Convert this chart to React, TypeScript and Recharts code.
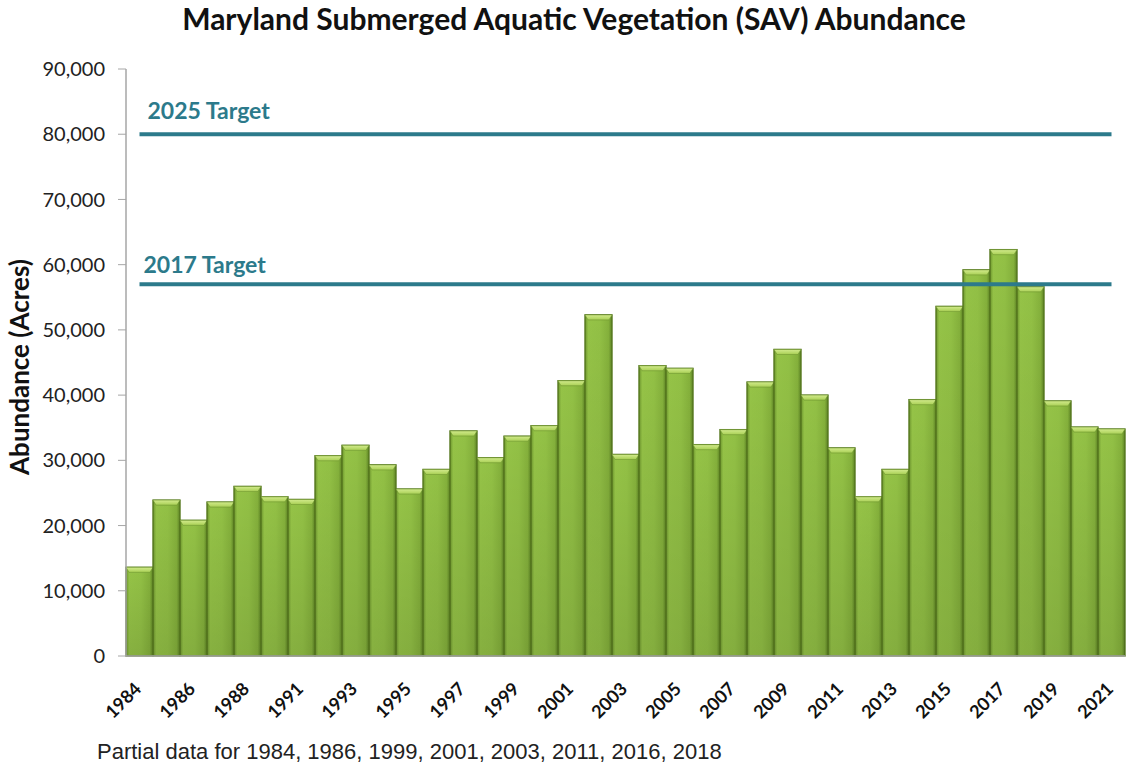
import { ComposedChart, Bar, XAxis, YAxis, ReferenceLine } from "recharts";

const years: string[] = [
  "1984", "1985", "1986", "1987", "1988", "1989", "1991", "1992", "1993", "1994",
  "1995", "1996", "1997", "1998", "1999", "2000", "2001", "2002", "2003", "2004",
  "2005", "2006", "2007", "2008", "2009", "2010", "2011", "2012", "2013", "2014",
  "2015", "2016", "2017", "2018", "2019", "2020", "2021",
];

// acres of SAV
const acres: number[] = [
  13600, 23900, 20800, 23600, 26000, 24400, 24000, 30700, 32300, 29300,
  25600, 28600, 34500, 30400, 33700, 35300, 42200, 52300, 30900, 44500,
  44100, 32400, 34700, 42000, 47000, 40000, 31900, 24400, 28600, 39300,
  53600, 59200, 62300, 56600, 39100, 35100, 34800,
];

const yTicks: number[] = [0, 10000, 20000, 30000, 40000, 50000, 60000, 70000, 80000, 90000];

const target2025 = 80000;
const target2017 = 57000;

const data = years.map((year, i) => ({ year, acres: acres[i] }));

const TEAL = "#2c7a8b";
const calibri = "Lato, 'Open Sans', sans-serif";

// bevelled green bar like the original
const BevelBar = (props: any) => {
  const { x, y, width, height } = props;
  if (height <= 0) return null;
  const b = 5;
  return (
    <g>
      <rect x={x} y={y} width={width} height={height} fill="url(#barGrad)" stroke="#56781f" strokeWidth={1.4} />
      <rect x={x} y={y} width={width} height={height} fill="url(#barShade)" />
      <polygon
        points={`${x},${y} ${x + width},${y} ${x + width - 3},${y + b} ${x + 3},${y + b}`}
        fill="url(#bevelGrad)"
        stroke="#6e9630"
        strokeWidth={0.6}
      />
    </g>
  );
};

const YearTick = (props: any) => {
  const { x, y, payload } = props;
  return (
    <g transform={`translate(${x + 3},${y + 26})`}>
      <text
        textAnchor="end"
        transform="rotate(-45)"
        fontFamily={calibri}
        fontWeight={700}
        fontSize={18}
        fill="#111"
      >
        {payload.value}
      </text>
    </g>
  );
};

const targetLabel = (text: string, dx: number, dy: number) => (props: any) => {
  const { viewBox } = props;
  return (
    <text
      x={viewBox.x + dx}
      y={viewBox.y - dy}
      fontFamily={calibri}
      fontWeight={700}
      fontSize={23}
      fill={TEAL}
    >
      {text}
    </text>
  );
};

const App = () => {
  return (
    <div style={{ position: "absolute", left: 0, top: 0, width: 1128, height: 767, background: "#fff" }}>
      <ComposedChart
        width={1128}
        height={767}
        data={data}
        margin={{ top: 69, right: 3, bottom: 51, left: 0 }}
        barCategoryGap={0}
      >
        <defs>
          <linearGradient id="barGrad" x1="0" y1="0" x2="1" y2="0">
            <stop offset="0%" stopColor="#6c952d" />
            <stop offset="12%" stopColor="#95c347" />
            <stop offset="55%" stopColor="#92c045" />
            <stop offset="88%" stopColor="#84b03b" />
            <stop offset="100%" stopColor="#5c8224" />
          </linearGradient>
          <linearGradient id="barShade" x1="0" y1="0" x2="0" y2="1">
            <stop offset="0%" stopColor="#000" stopOpacity={0} />
            <stop offset="100%" stopColor="#000" stopOpacity={0.1} />
          </linearGradient>
          <linearGradient id="bevelGrad" x1="0" y1="0" x2="0" y2="1">
            <stop offset="0%" stopColor="#d2ea8c" />
            <stop offset="100%" stopColor="#a9d055" />
          </linearGradient>
        </defs>
        <text
          x={574}
          y={30}
          textAnchor="middle"
          fontFamily={calibri}
          fontWeight={700}
          fontSize={30}
          fill="#111"
        >
          Maryland Submerged Aquatic Vegetation (SAV) Abundance
        </text>
        <text
          x={0}
          y={0}
          transform="translate(29,367) rotate(-90)"
          textAnchor="middle"
          fontFamily={calibri}
          fontWeight={700}
          fontSize={26}
          fill="#111"
        >
          Abundance (Acres)
        </text>
        <text x={97} y={759} fontFamily="'Liberation Sans', Arial, sans-serif" fontSize={22} fill="#222">
          Partial data for 1984, 1986, 1999, 2001, 2003, 2011, 2016, 2018
        </text>
        <XAxis
          dataKey="year"
          interval={1}
          height={60}
          tickLine={false}
          axisLine={{ stroke: "#a6a6a6", strokeWidth: 1.5 }}
          tick={<YearTick />}
        />
        <YAxis
          width={126}
          domain={[0, 90000]}
          ticks={yTicks}
          tickSize={8}
          tickMargin={13}
          tickLine={{ stroke: "#a6a6a6" }}
          axisLine={{ stroke: "#a6a6a6", strokeWidth: 1.5 }}
          tick={{ fontFamily: calibri, fontSize: 20, fill: "#222" }}
          tickFormatter={(v: number) => v.toLocaleString("en-US")}
        />
        <Bar dataKey="acres" shape={<BevelBar />} isAnimationActive={false} />
        <ReferenceLine
          segment={[{ x: "1984", y: target2025 }, { x: "2021", y: target2025 }]}
          stroke={TEAL}
          strokeWidth={4}
          ifOverflow="visible"
          label={targetLabel("2025 Target", 8, 15)}
        />
        <ReferenceLine
          segment={[{ x: "1984", y: target2017 }, { x: "2021", y: target2017 }]}
          stroke={TEAL}
          strokeWidth={4}
          ifOverflow="visible"
          label={targetLabel("2017 Target", 4, 11)}
        />
      </ComposedChart>
    </div>
  );
};

export default App;
